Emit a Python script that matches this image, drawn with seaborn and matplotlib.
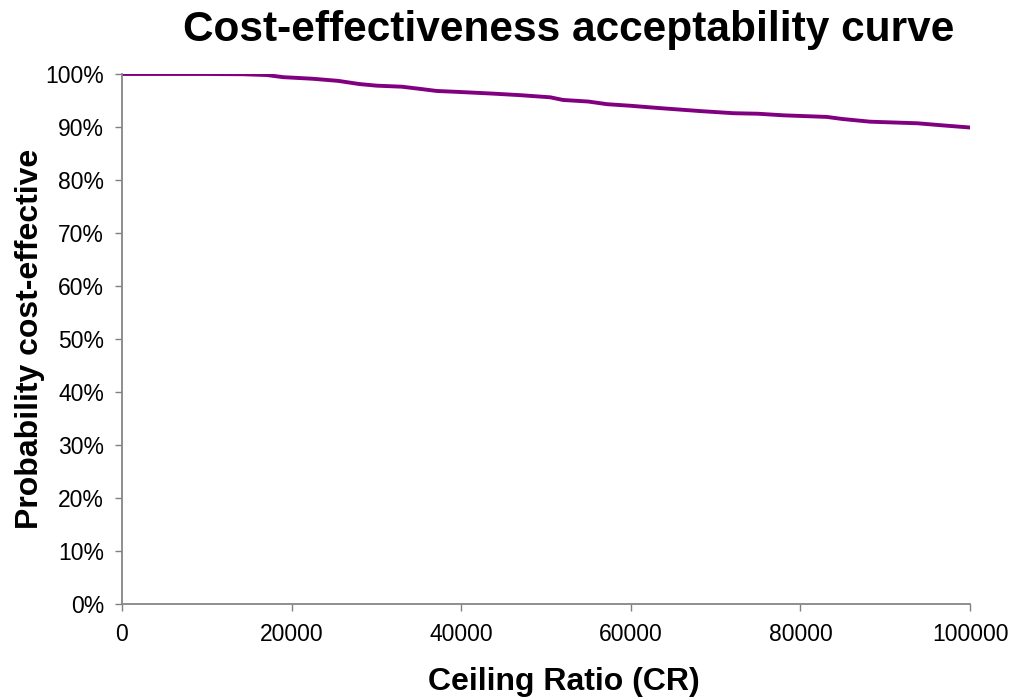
import numpy as np
import matplotlib
matplotlib.use("Agg")
import matplotlib.pyplot as plt
import seaborn as sns
import pandas as pd
from matplotlib.ticker import PercentFormatter

# ceiling ratio and probability cost-effective
ceiling = [0, 5000, 10000, 14300, 17100, 19000, 22500, 25500, 28000, 30000, 33000,
           35100, 37100, 39900, 43700, 47000, 50500, 52000, 55000, 57200, 60000,
           63100, 68200, 72100, 75000, 78000, 83100, 85000, 88200, 93800, 96800, 100000]
prob = [100.0, 100.0, 100.0, 99.95, 99.8, 99.4, 99.1, 98.7, 98.1, 97.8, 97.6,
        97.2, 96.8, 96.6, 96.3, 96.0, 95.6, 95.1, 94.8, 94.3, 94.0,
        93.6, 93.0, 92.6, 92.5, 92.2, 91.9, 91.5, 91.0, 90.7, 90.3, 89.9]

df = pd.DataFrame({"ceiling": ceiling, "prob": prob})

sns.set_style("white")
plt.rcParams["font.family"] = ["Liberation Sans", "DejaVu Sans"]
plt.rcParams["text.color"] = "black"
plt.rcParams["axes.labelcolor"] = "black"
plt.rcParams["xtick.color"] = "black"
plt.rcParams["ytick.color"] = "black"

fig = plt.figure(figsize=(10.13, 6.98), dpi=100)
ax = fig.add_axes([0.1204, 0.1347, 0.8372, 0.7593])

sns.lineplot(data=df, x="ceiling", y="prob", color="#800080", linewidth=2.8, ax=ax)

ax.set_xlim(0, 100000)
ax.set_ylim(0, 100)
ax.set_xticks(np.arange(0, 100001, 20000))
ax.set_yticks(np.arange(0, 101, 10))
ax.yaxis.set_major_formatter(PercentFormatter(decimals=0))
ax.tick_params(axis="both", labelsize=16.5, length=5, width=1, color="#808080",
               direction="out", left=True, bottom=True, labelcolor="black")
ax.tick_params(axis="y", pad=8)
ax.tick_params(axis="x", pad=9)

for s in ["top", "right"]:
    ax.spines[s].set_visible(False)
for s in ["left", "bottom"]:
    ax.spines[s].set_color("#868686")
    ax.spines[s].set_linewidth(1.3)

ax.set_xlabel("Ceiling Ratio (CR)", fontsize=23, fontweight="bold", labelpad=15)
ax.xaxis.label.set_x(0.521)
ax.set_ylabel("Probability cost-effective", fontsize=23, fontweight="bold", labelpad=0)
fig.text(0.561, 0.957, "Cost-effectiveness acceptability curve", fontsize=30.5,
         fontweight="bold", ha="center", va="center")

fig.savefig("out.png", dpi=100)
